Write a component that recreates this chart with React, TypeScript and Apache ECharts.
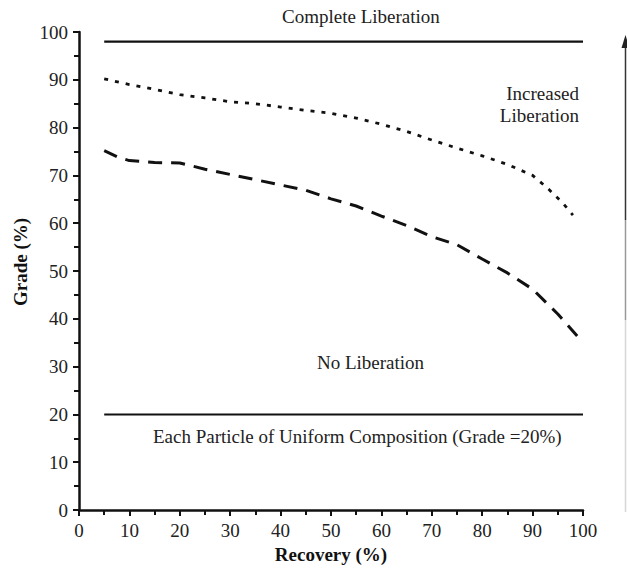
import React, { useEffect, useRef } from "react";
import * as echarts from "echarts";

const increasedX = [5, 10, 15, 20, 25, 30, 35, 40, 45, 50, 55, 60, 65, 70, 75, 80, 85, 90, 93, 96, 98];
const increasedY = [90.2, 89, 88, 86.9, 86.2, 85.4, 85, 84.3, 83.6, 83, 82, 80.7, 79.2, 77.4, 75.7, 74.1, 72.3, 70, 67.3, 64.2, 61.7];

const noLibX = [5, 8, 10, 15, 20, 25, 30, 35, 40, 45, 50, 55, 60, 65, 70, 75, 80, 85, 90, 95, 100];
const noLibY = [75.2, 73.7, 73.1, 72.7, 72.6, 71.3, 70.2, 69.1, 68, 66.9, 65.1, 63.6, 61.5, 59.5, 57.2, 55.5, 52.5, 49.6, 46.2, 41, 35];

const completeX = [5, 100];
const completeY = [98, 98];
const uniformX = [5, 100];
const uniformY = [20, 20];

const xTicks = [0, 10, 20, 30, 40, 50, 60, 70, 80, 90, 100];
const yTicks = [0, 10, 20, 30, 40, 50, 60, 70, 80, 90, 100];

const zip = (xs: number[], ys: number[]) => xs.map((x, i) => [x, ys[i]]);

const FONT = "'Liberation Serif', 'Times New Roman', 'DejaVu Serif', serif";

export default function App() {
  const ref = useRef<HTMLDivElement>(null);
  useEffect(() => {
    if (!ref.current) return;
    const chart = echarts.init(ref.current, undefined, { renderer: "svg" });
    const axisCommon = {
      type: "value" as const,
      min: xTicks[0],
      max: xTicks[xTicks.length - 1],
      interval: 10,
      splitLine: { show: false },
      axisLine: { show: true, lineStyle: { color: "#111", width: 2.5 } },
      axisTick: { show: true, length: 6, lineStyle: { color: "#111", width: 2 } },
      minorTick: { show: true, splitNumber: 2, length: 5, lineStyle: { color: "#111", width: 2 } },
      axisLabel: { color: "#222", fontFamily: FONT, fontSize: 19, margin: 11 },
      nameLocation: "middle" as const,
      nameTextStyle: { color: "#111", fontFamily: FONT, fontSize: 19, fontWeight: "bold" as const },
    };
    chart.setOption({
      animation: false,
      backgroundColor: "#fff",
      grid: { left: 79, top: 32, right: 44, bottom: 64, containLabel: false },
      xAxis: { ...axisCommon, name: "Recovery (%)", nameGap: 33 },
      yAxis: {
        ...axisCommon,
        min: yTicks[0],
        max: yTicks[yTicks.length - 1],
      },
      series: [
        {
          type: "line",
          data: zip(completeX, completeY),
          symbol: "none",
          lineStyle: { color: "#111", width: 2.2 },
        },
        {
          type: "line",
          data: zip(uniformX, uniformY),
          symbol: "none",
          lineStyle: { color: "#111", width: 2 },
        },
        {
          type: "line",
          data: zip(increasedX, increasedY),
          symbol: "none",
          lineStyle: { color: "#111", width: 2.8, type: [4, 7] },
        },
        {
          type: "line",
          data: zip(noLibX, noLibY),
          symbol: "none",
          lineStyle: { color: "#111", width: 3, type: [14, 9] },
        },
      ],
      graphic: [
        {
          type: "text",
          x: 20,
          y: 262,
          rotation: Math.PI / 2,
          style: {
            text: "Grade (%)",
            fill: "#111",
            font: `bold 19px ${FONT}`,
            align: "center",
            verticalAlign: "middle",
          },
        },
        {
          type: "text",
          left: 282,
          top: 7,
          style: { text: "Complete Liberation", fill: "#222", font: `19px ${FONT}` },
        },
        {
          type: "text",
          x: 579,
          y: 104,
          style: {
            text: "Increased\nLiberation",
            fill: "#222",
            font: `19px ${FONT}`,
            align: "right",
            verticalAlign: "middle",
            lineHeight: 22,
          },
        },
        {
          type: "text",
          left: 317,
          top: 353,
          style: { text: "No Liberation", fill: "#222", font: `19px ${FONT}` },
        },
        {
          type: "text",
          left: 153,
          top: 427,
          style: { text: "Each Particle of Uniform Composition (Grade =20%)", fill: "#222", font: `19px ${FONT}` },
        },
        { type: "line", shape: { x1: 625.5, y1: 44, x2: 625.5, y2: 220 }, style: { stroke: "#333", lineWidth: 1.5 } },
        { type: "line", shape: { x1: 625.5, y1: 220, x2: 625.5, y2: 320 }, style: { stroke: "#999", lineWidth: 1.5 } },
        { type: "line", shape: { x1: 625.5, y1: 320, x2: 625.5, y2: 512 }, style: { stroke: "#d6d6d6", lineWidth: 1.5 } },
        {
          type: "polygon",
          shape: { points: [[625.5, 35], [621.5, 48], [629.5, 48]] },
          style: { fill: "#222" },
        },
      ],
    });
    return () => chart.dispose();
  }, []);
  return <div ref={ref} style={{ width: 627, height: 574, position: "absolute", left: 0, top: 0 }} />;
}
